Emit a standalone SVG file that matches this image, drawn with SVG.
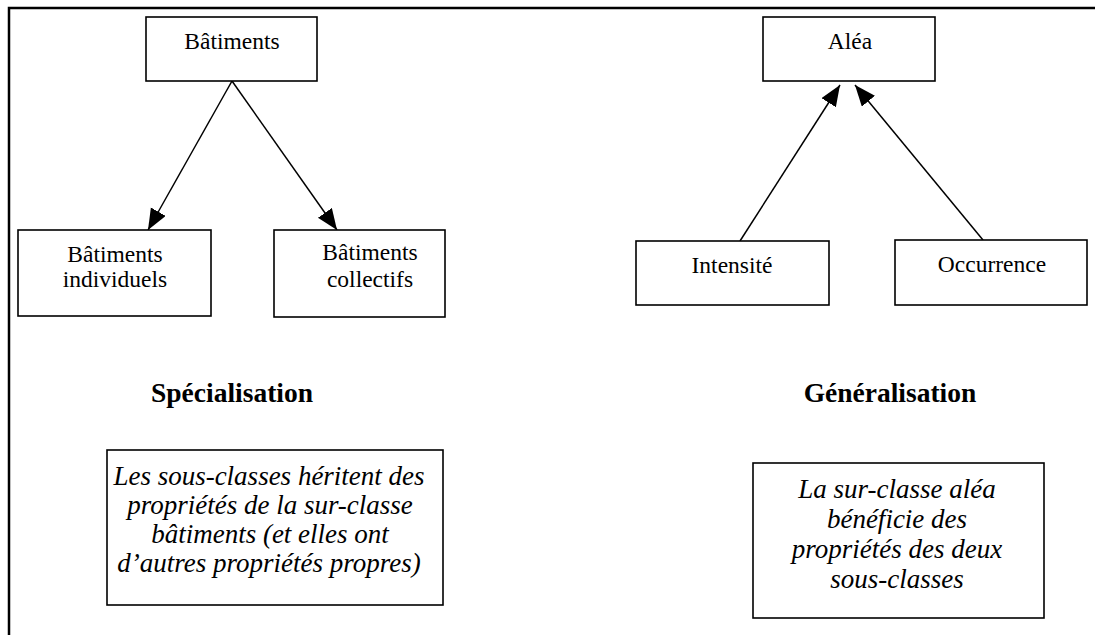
<svg xmlns="http://www.w3.org/2000/svg" width="1095" height="635" viewBox="0 0 1095 635">
<style>
.box{fill:#fff;stroke:#000;stroke-width:1.6}
.t{font-family:"Liberation Serif","Times New Roman",serif;font-size:23.5px;fill:#000;text-anchor:middle}
.h{font-family:"Liberation Serif","Times New Roman",serif;font-size:27.5px;font-weight:bold;fill:#000;text-anchor:middle}
.i{font-family:"Liberation Serif","Times New Roman",serif;font-size:27px;font-style:italic;fill:#000;text-anchor:middle}
.c{stroke:#000;stroke-width:1.5;fill:none;marker-end:url(#ah)}
</style>
<defs>
<marker id="ah" markerUnits="userSpaceOnUse" markerWidth="22" markerHeight="18" refX="21" refY="8.5" orient="auto">
<path d="M0,0 L21,8.5 L0,17 z" fill="#000"/>
</marker>
</defs>
<rect width="1095" height="635" fill="#fff"/>
<path d="M9,635 V8 H1095" fill="none" stroke="#000" stroke-width="2.5"/>
<g id="connectors">
<line class="c" x1="232" y1="81" x2="148" y2="230"/>
<line class="c" x1="232" y1="81" x2="337" y2="230"/>
<line class="c" x1="740" y1="241" x2="840" y2="85"/>
<line class="c" x1="983" y1="240" x2="855" y2="85"/>
</g>
<g id="batiments">
<rect class="box" x="146" y="17" width="171" height="64"/>
<text class="t" x="232" y="49">Bâtiments</text>
</g>
<g id="batiments-individuels">
<rect class="box" x="18" y="230" width="193" height="86"/>
<text class="t" x="115" y="262">Bâtiments</text>
<text class="t" x="115" y="287">individuels</text>
</g>
<g id="batiments-collectifs">
<rect class="box" x="274" y="230" width="171" height="87"/>
<text class="t" x="370" y="260">Bâtiments</text>
<text class="t" x="370" y="287">collectifs</text>
</g>
<g id="alea">
<rect class="box" x="763" y="17" width="172" height="64"/>
<text class="t" x="850" y="49">Aléa</text>
</g>
<g id="intensite">
<rect class="box" x="636" y="241" width="193" height="64"/>
<text class="t" x="732" y="273">Intensité</text>
</g>
<g id="occurrence">
<rect class="box" x="895" y="240" width="192" height="65"/>
<text class="t" x="992" y="272">Occurrence</text>
</g>
<g id="specialisation">
<text class="h" x="232" y="402">Spécialisation</text>
</g>
<g id="generalisation">
<text class="h" x="890" y="402">Généralisation</text>
</g>
<g id="note-specialisation">
<rect class="box" x="107" y="450" width="336" height="155"/>
<text class="i" x="269" y="485">Les sous-classes héritent des</text>
<text class="i" x="270" y="514">propriétés de la sur-classe</text>
<text class="i" x="270" y="543">bâtiments (et elles ont</text>
<text class="i" x="269" y="572">d’autres propriétés propres)</text>
</g>
<g id="note-generalisation">
<rect class="box" x="753" y="463" width="291" height="155"/>
<text class="i" x="897" y="498">La sur-classe aléa</text>
<text class="i" x="897" y="528">bénéficie des</text>
<text class="i" x="897" y="558">propriétés des deux</text>
<text class="i" x="897" y="588">sous-classes</text>
</g>
</svg>
